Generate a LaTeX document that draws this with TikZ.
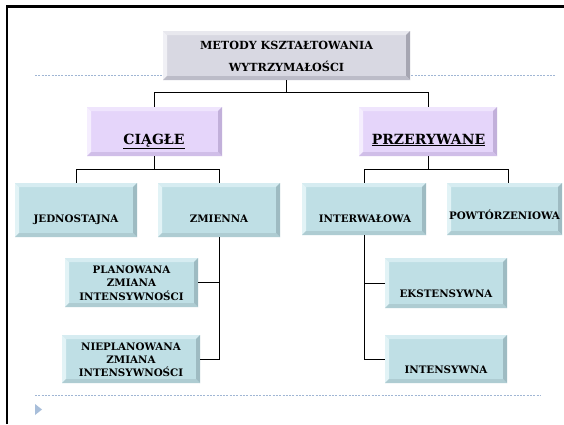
\documentclass[tikz,border=0pt]{standalone}
\usepackage{fontspec}
\setmainfont{DejaVu Serif}
\definecolor{bface}{RGB}{191,223,229}
\definecolor{btop}{RGB}{214,236,241}
\definecolor{bleft}{RGB}{226,243,246}
\definecolor{bright}{RGB}{158,187,194}
\definecolor{bbot}{RGB}{174,204,210}
\definecolor{pface}{RGB}{229,213,250}
\definecolor{ptop}{RGB}{239,229,253}
\definecolor{pleft}{RGB}{245,238,254}
\definecolor{pright}{RGB}{194,176,218}
\definecolor{pbot}{RGB}{208,190,232}
\definecolor{gface}{RGB}{216,216,226}
\definecolor{gtop}{RGB}{232,232,238}
\definecolor{gleft}{RGB}{240,240,245}
\definecolor{gright}{RGB}{166,166,178}
\definecolor{gbot}{RGB}{188,188,200}
\definecolor{dotc}{RGB}{160,182,212}
\definecolor{tric}{RGB}{168,190,218}
\tikzset{
  bev/.style n args={5}{draw=none, fill=#1, inner sep=0pt, outer sep=0pt,
    path picture={
      \fill[#2] (path picture bounding box.north west) -- (path picture bounding box.north east)
        -- ([shift={(-4pt,-4pt)}]path picture bounding box.north east)
        -- ([shift={(4pt,-4pt)}]path picture bounding box.north west) -- cycle;
      \fill[#3] (path picture bounding box.north west) -- (path picture bounding box.south west)
        -- ([shift={(4pt,4pt)}]path picture bounding box.south west)
        -- ([shift={(4pt,-4pt)}]path picture bounding box.north west) -- cycle;
      \fill[#4] (path picture bounding box.north east) -- (path picture bounding box.south east)
        -- ([shift={(-4pt,4pt)}]path picture bounding box.south east)
        -- ([shift={(-4pt,-4pt)}]path picture bounding box.north east) -- cycle;
      \fill[#5] (path picture bounding box.south west) -- (path picture bounding box.south east)
        -- ([shift={(-4pt,4pt)}]path picture bounding box.south east)
        -- ([shift={(4pt,4pt)}]path picture bounding box.south west) -- cycle;
    }},
  bbox/.style={bev={bface}{btop}{bleft}{bright}{bbot}},
  pbox/.style={bev={pface}{ptop}{pleft}{pright}{pbot}},
  gbox/.style={bev={gface}{gtop}{gleft}{gright}{gbot}},
  txt/.style={anchor=base, inner sep=0pt, font=\fontsize{10.3}{12}\selectfont\bfseries},
  titletxt/.style={anchor=base, inner sep=0pt, font=\fontsize{11.2}{13}\selectfont\bfseries},
  bigtxt/.style={anchor=base, inner sep=0pt, font=\fontsize{14}{16}\selectfont\bfseries},
  conn/.style={draw=black, line width=0.9pt},
  dotline/.style={draw=dotc, line width=0.8pt, dash pattern=on 2pt off 1.3pt},
}
\begin{document}
\begin{tikzpicture}[x=1pt,y=-1pt]
\useasboundingbox[fill=white] (0,0) rectangle (564,424);
% frame
\draw[line width=2.6pt, line cap=butt] (7,424) -- (7,6.3) -- (564,6.3);
% dotted separators
\draw[dotline] (35,75) -- (555,75);
\draw[dotline] (35,395) -- (540,395);
\fill[tric] (35,404) -- (42,409.5) -- (35,415) -- cycle;

% boxes
\node[gbox, minimum width=247pt, minimum height=49pt] (top) at (286.5,55.5) {};
\node[pbox, minimum width=135pt, minimum height=49pt] (cia) at (154.5,131.5) {};
\node[pbox, minimum width=138pt, minimum height=49pt] (prz) at (428,131.5) {};
\node[bbox, minimum width=122pt, minimum height=54pt] (jed) at (76,210) {};
\node[bbox, minimum width=122pt, minimum height=54pt] (zmi) at (219,210) {};
\node[bbox, minimum width=124pt, minimum height=52pt] (int) at (364,209) {};
\node[bbox, minimum width=115pt, minimum height=52pt] (pow) at (504.5,209) {};
\node[bbox, minimum width=133pt, minimum height=49pt] (plan) at (131.5,282.5) {};
\node[bbox, minimum width=138pt, minimum height=48pt] (nplan) at (131,359) {};
\node[bbox, minimum width=122pt, minimum height=50pt] (eks) at (446,283) {};
\node[bbox, minimum width=122pt, minimum height=48pt] (ints) at (446,359) {};

% texts
\node[titletxt] (t1) at (286.5,49) {METODY KSZTAŁTOWANIA};
\node[titletxt] (t2) at (286.5,71.5) {WYTRZYMAŁOŚCI};
\node[bigtxt] (tc) at (154,144) {\underline{CIĄGŁE}};
\node[bigtxt] (tp) at (428.5,144) {\underline{PRZERYWANE}};
\node[txt] (tj) at (76,222) {JEDNOSTAJNA};
\node[txt] (tz) at (219,222) {ZMIENNA};
\node[txt] (ti) at (365,222) {INTERWAŁOWA};
\node[txt] (tw) at (504.5,219) {POWTÓRZENIOWA};
\node[txt] (p1) at (131.5,273) {PLANOWANA};
\node[txt] (p2) at (131.5,286.5) {ZMIANA};
\node[txt] (p3) at (131.5,300) {INTENSYWNOŚCI};
\node[txt] (n1) at (131,350) {NIEPLANOWANA};
\node[txt] (n2) at (131,363) {ZMIANA};
\node[txt] (n3) at (131,376) {INTENSYWNOŚCI};
\node[txt] (te) at (446,297) {EKSTENSYWNA};
\node[txt] (tn) at (446,373) {INTENSYWNA};

% connectors
\draw[conn] (top.south) -- ++(0,12) -| (cia.north);
\draw[conn] (top.south) -- ++(0,12) -| (prz.north);
\draw[conn] (cia.south) -- ++(0,13) -| (jed.north);
\draw[conn] (cia.south) -- ++(0,13) -| (zmi.north);
\draw[conn] (prz.south) -- ++(0,13) -| (int.north);
\draw[conn] (prz.south) -- ++(0,13) -| ([xshift=3.5pt]pow.north);
\draw[conn] (zmi.south) |- (nplan.east);
\draw[conn] (plan.east) -- (plan.east -| zmi.south);
\draw[conn] (int.south) |- (ints.west);
\draw[conn] (eks.west) -- (eks.west -| int.south);
\end{tikzpicture}
\end{document}
